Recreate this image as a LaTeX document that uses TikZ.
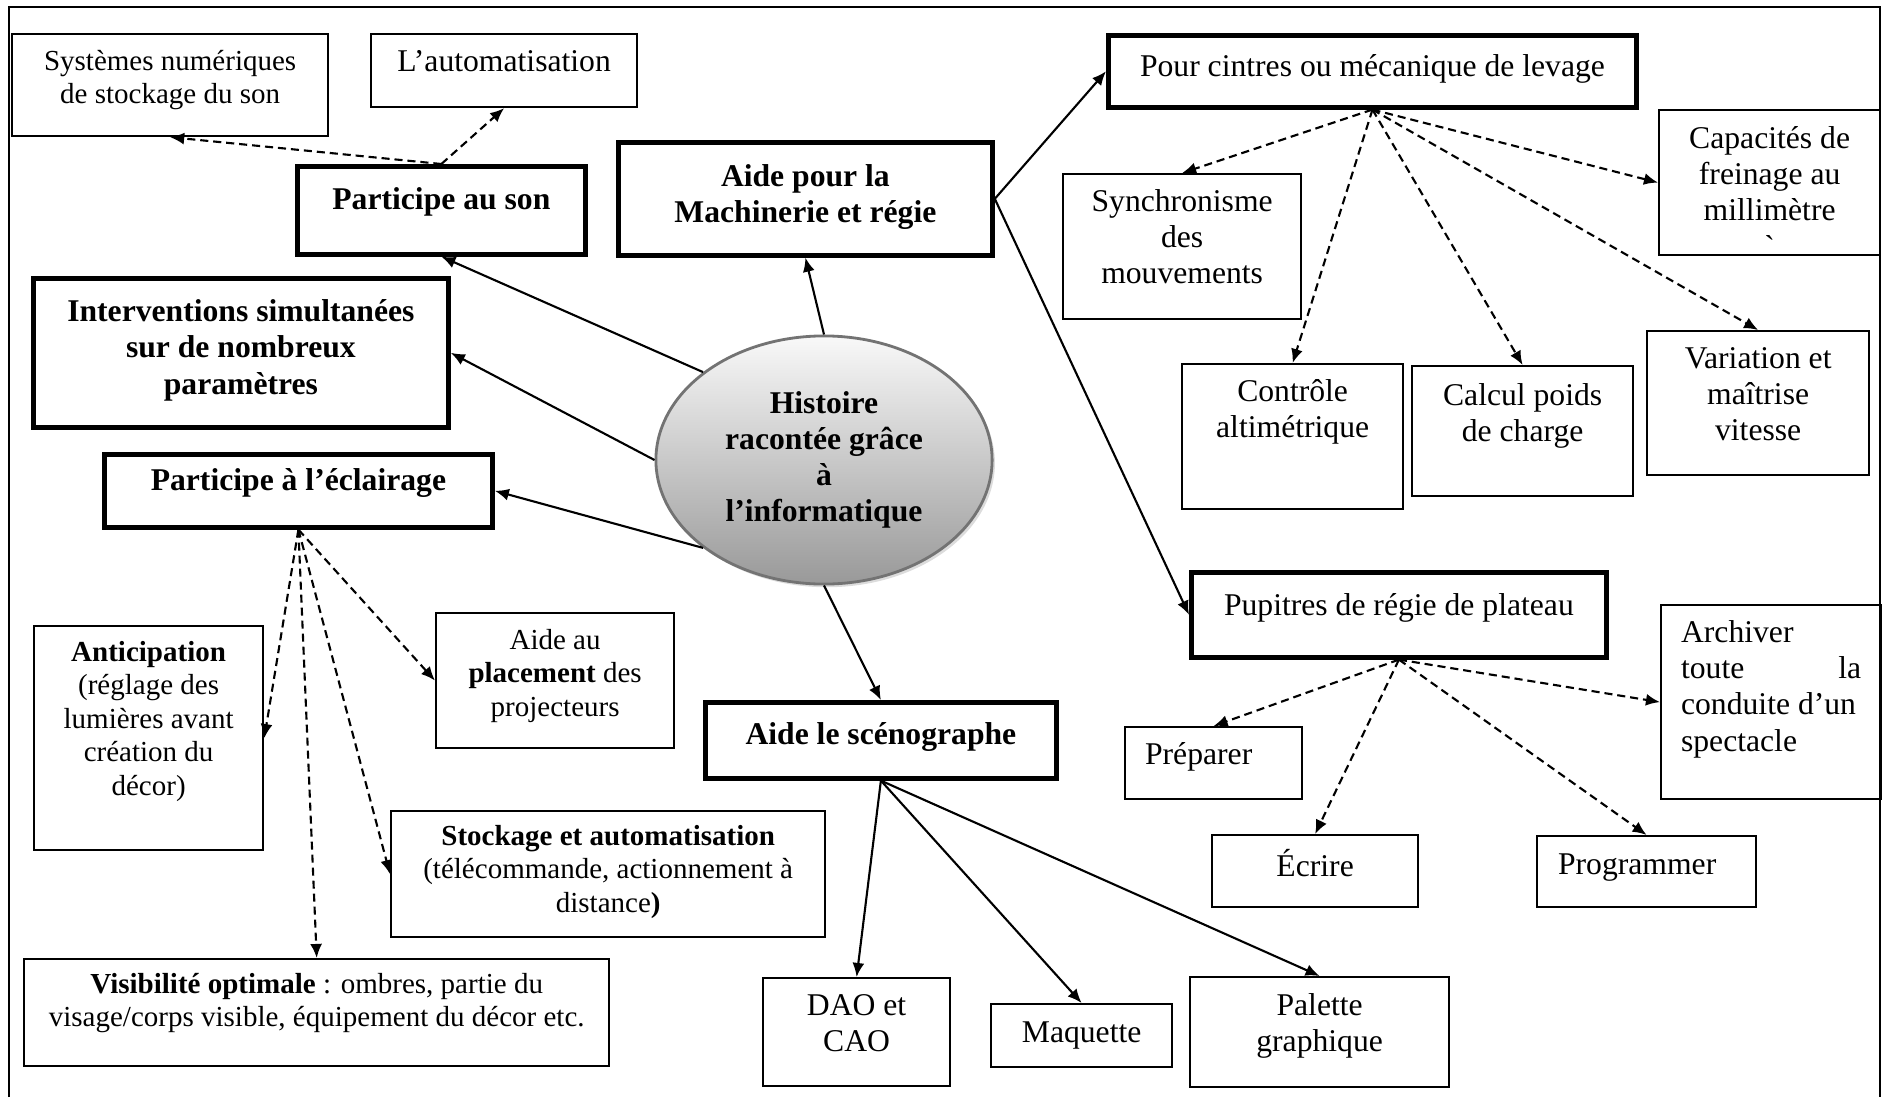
\documentclass[tikz,border=0pt]{standalone}
\usepackage{fontspec}
\setmainfont{Liberation Serif}
\usetikzlibrary{arrows.meta,shapes.geometric,shadows}

\newcommand{\bodyfont}{\fontsize{9}{10.3}\selectfont}
\newcommand{\smallbody}{\fontsize{8.25}{9.5}\selectfont}
\newcommand{\boxtxt}[4]{\parbox[c][#2cm][t]{#1cm}{\centering\vspace*{#3cm}\strut#4}}

\begin{document}
\begin{tikzpicture}[x=0.01cm, y=-0.01cm, font=\bodyfont,
  thinbox/.style={draw, line width=0.6pt, inner sep=0pt, anchor=north west},
  thickbox/.style={draw, line width=1.3pt, inner sep=0pt, anchor=north west},
  bold/.style={font=\bodyfont\bfseries},
  small/.style={font=\smallbody},
  link/.style={-{Latex[length=4pt,width=3.4pt]}, line width=0.6pt},
  dlink/.style={link, dash pattern=on 2.3pt off 1.4pt}]
\useasboundingbox (0,0) rectangle (1883,1097);
\draw[line width=0.6pt] (9,1097) -- (9,7) -- (1880,7) -- (1880,1097);

\node[ellipse, draw=black!55, line width=0.8pt, top color=gray!5, bottom color=gray!80,
  drop shadow={shadow xshift=0.8pt, shadow yshift=-0.9pt, fill=gray!55},
  minimum width=3.36cm, minimum height=2.48cm, inner sep=0pt, align=center, bold]
  (hist) at (824,460) {Histoire\\ racontée grâce\\ à\\ l’informatique};

\node[thinbox, small] (sys) at (11,33) {\boxtxt{3.16}{1.02}{.13}{Systèmes numériques\\ de stockage du son}};
\node[thinbox] (auto) at (370,33) {\boxtxt{2.66}{.73}{.12}{L’automatisation}};
\node[thickbox, bold] (son) at (295,164) {\boxtxt{2.88}{.88}{.18}{Participe au son}};
\node[thickbox, bold] (inter) at (31,276) {\boxtxt{4.15}{1.49}{.18}{Interventions simultanées\\ sur de nombreux\\ paramètres}};
\node[thickbox, bold] (ecl) at (102,452) {\boxtxt{3.88}{.73}{.11}{Participe à l’éclairage}};
\node[thickbox, bold] (mach) at (616,140) {\boxtxt{3.74}{1.13}{.19}{Aide pour la\\ Machinerie et régie}};
\node[thickbox] (cint) at (1106,33) {\boxtxt{5.28}{.72}{.16}{Pour cintres ou mécanique de levage}};
\node[thinbox] (cap) at (1658,109) {\boxtxt{2.21}{1.45}{.13}{Capacités de\\ freinage au\\ millimètre\\ \textasciigrave}};
\node[thinbox] (sync) at (1062,173) {\boxtxt{2.38}{1.45}{.12}{Synchronisme\\ des\\ mouvements}};
\node[thinbox] (ctrl) at (1181,363) {\boxtxt{2.21}{1.45}{.12}{Contrôle\\ altimétrique}};
\node[thinbox] (calc) at (1411,365) {\boxtxt{2.21}{1.30}{.14}{Calcul poids\\ de charge}};
\node[thinbox] (var) at (1646,330) {\boxtxt{2.22}{1.44}{.12}{Variation et\\ maîtrise\\ vitesse}};
\node[thickbox] (pup) at (1189,570) {\boxtxt{4.15}{.85}{.18}{Pupitres de régie de plateau}};
\node[thinbox] (arch) at (1660,604) {\boxtxt{2.20}{1.94}{.12}{\raggedright\leftskip=.2cm\rightskip=.2cm plus 1fil Archiver\\ toute\hfill la\\ \mbox{conduite d’un}\\ spectacle}};
\node[thinbox] (prep) at (1124,726) {\boxtxt{1.77}{.72}{.12}{\raggedright\leftskip=.2cm Préparer}};
\node[thinbox] (ecr) at (1211,834) {\boxtxt{2.06}{.72}{.14}{Écrire}};
\node[thinbox] (prog) at (1536,835) {\boxtxt{2.19}{.71}{.13}{\raggedright\leftskip=.21cm Programmer}};
\node[thickbox, bold] (scen) at (703,700) {\boxtxt{3.51}{.76}{.17}{Aide le scénographe}};
\node[thinbox] (dao) at (762,977) {\boxtxt{1.87}{1.08}{.12}{DAO et\\ CAO}};
\node[thinbox] (maq) at (990,1003) {\boxtxt{1.81}{.63}{.13}{Maquette}};
\node[thinbox] (pal) at (1189,976) {\boxtxt{2.59}{1.10}{.13}{Palette\\ graphique}};
\node[thinbox, small] (vis) at (23,958) {\boxtxt{5.85}{1.07}{.11}{\textbf{Visibilité optimale} : ombres, partie du\\ visage/corps visible, équipement du décor etc.}};
\node[thinbox, small] (stock) at (390,810) {\boxtxt{4.34}{1.26}{.11}{\textbf{Stockage et automatisation}\\ (télécommande, actionnement à\\ distance\textbf{)}}};
\node[thinbox, small] (plac) at (435,612) {\boxtxt{2.38}{1.35}{.13}{Aide au\\ \textbf{placement} des\\ projecteurs}};
\node[thinbox, small] (ant) at (33,625) {\boxtxt{2.29}{2.24}{.12}{\textbf{Anticipation}\\ (réglage des\\ lumières avant\\ création du\\ décor)}};

\draw[link] (hist.144) -- (son.south);
\draw[link] (hist.west) -- (inter.east);
\draw[link] (hist.216) -- (ecl.east);
\draw[link] (hist.north) -- (mach.south);
\draw[link] (hist.south) -- (scen.north);
\draw[link] (mach.east) -- (cint.west);
\draw[link] (mach.east) -- (pup.west);
\draw[link] (scen.south) -- (dao.north);
\draw[link] (scen.south) -- (maq.north);
\draw[link] (scen.south) -- (pal.north);

\draw[dlink] (son.north) -- (sys.south);
\draw[dlink] (son.north) -- (auto.south);
\draw[dlink] (ecl.south) -- (ant.east);
\draw[dlink] (ecl.south) -- (plac.west);
\draw[dlink] (ecl.south) -- (stock.west);
\draw[dlink] (ecl.south) -- (vis.north);
\draw[dlink] (cint.south) -- (sync.north);
\draw[dlink] (cint.south) -- (ctrl.north);
\draw[dlink] (cint.south) -- (calc.north);
\draw[dlink] (cint.south) -- (var.north);
\draw[dlink] (cint.south) -- (cap.west);
\draw[dlink] (pup.south) -- (prep.north);
\draw[dlink] (pup.south) -- (ecr.north);
\draw[dlink] (pup.south) -- (prog.north);
\draw[dlink] (pup.south) -- (arch.west);
\end{tikzpicture}
\end{document}
